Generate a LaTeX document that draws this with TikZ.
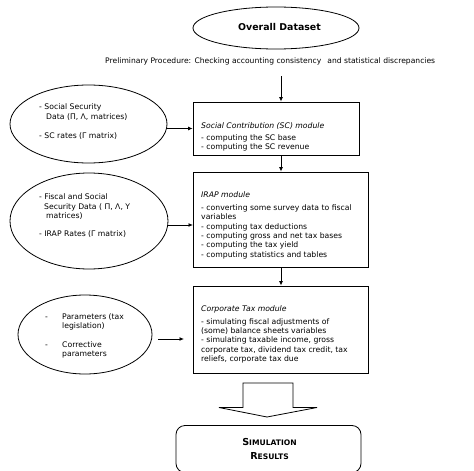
\documentclass[tikz,border=0pt]{standalone}
\usepackage{fontspec}
\setmainfont{DejaVu Sans}
\usetikzlibrary{arrows.meta,shapes.geometric}
\begin{document}
\begin{tikzpicture}[x=1pt,y=-1pt,
  ell/.style={draw, ellipse, inner sep=0pt, line width=0.8pt},
  box/.style={draw, rectangle, inner sep=0pt, line width=0.8pt},
  txt/.style={font=\fontsize{7.7}{9.35}\selectfont, align=left, inner sep=0pt, anchor=west},
  conn/.style={line width=0.9pt, -{Latex[length=4.5pt,width=4pt]}}]
\useasboundingbox (0,0) rectangle (474,471);

% top dataset
\node[ell, minimum width=166pt, minimum height=42pt] (ds) at (276,28) {};
\node[font=\bfseries\fontsize{9.4}{11}\selectfont, inner sep=0pt] (dst) at (279.5,27) {Overall Dataset};
\node[txt, font=\fontsize{7.6}{9.35}\selectfont] (pre) at (105,61) {Preliminary Procedure: Checking accounting consistency\hspace{0.8em}and statistical discrepancies};
\coordinate (prea) at (281,76);

% module boxes
\node[box, minimum width=166pt, minimum height=53pt] (sc) at (276,128.5) {};
\node[txt] (sct) at (201,136.7) {\textit{Social Contribution (SC) module}\\[2.7pt]
- computing the SC base\\
- computing the SC revenue};

\node[box, minimum width=175pt, minimum height=95pt] (irap) at (280.5,219.5) {};
\node[txt] (irapt) at (201,225.2) {\textit{IRAP module}\\[3.6pt]
- converting some survey data to fiscal\\
variables\\
- computing tax deductions\\
- computing gross and net tax bases\\
- computing the tax yield\\
- computing statistics and tables};

\node[box, minimum width=175pt, minimum height=87pt] (ct) at (280.5,329.5) {};
\node[txt] (ctt) at (201,334.2) {\textit{Corporate Tax module}\\[3.6pt]
- simulating fiscal adjustments of\\
(some) balance sheets variables\\
- simulating taxable income, gross\\
corporate tax, dividend tax credit, tax\\
reliefs, corporate tax due};

% input ellipses
\node[ell, minimum width=157pt, minimum height=78pt] (e1) at (88.5,124) {};
\node[txt] (e1t) at (39,121.7) {- Social Security\\
\hspace*{7pt}Data (Π, Λ, matrices)\\[9.6pt]
- SC rates (Γ matrix)};

\node[ell, minimum width=158pt, minimum height=96pt] (e2) at (89,221) {};
\node[txt] (e2t) at (39,215.7) {- Fiscal and Social\\
\hspace*{5pt}Security Data ( Π, Λ, Υ\\
\hspace*{7pt}matrices)\\[8.6pt]
- IRAP Rates (Γ matrix)};

\node[ell, minimum width=134pt, minimum height=79pt] (e3) at (85,334.5) {};
\node[txt] (e3t) at (45,335.7) {\makebox[17pt][l]{-}Parameters (tax\\
\hspace*{17pt}legislation)\\[9.6pt]
\makebox[17pt][l]{-}Corrective\\
\hspace*{17pt}parameters};
\coordinate (a3s) at (158,339);
\coordinate (a3e) at (184,339);

% connectors
\draw[conn] (prea) -- (prea |- sc.north);
\draw[conn] (sc.south -| prea) -- (irap.north -| prea);
\draw[conn] (irap.south -| prea) -- (ct.north -| prea);
\draw[conn] (sc.west -| e1.east) -- (sc.west);
\coordinate (a2e) at (193,225);
\draw[conn] (a2e -| e2.east) -- (a2e);
\draw[conn] (a3s) -- (a3e);

% block arrow
\draw[line width=0.8pt, line join=miter] (243,383) -- (293,383) -- (293,407.5) -- (317,407.5) -- (267,417) -- (219,407.5) -- (243,407.5) -- cycle;

% results
\node[box, rounded corners=9pt, minimum width=185pt, minimum height=47pt] (res) at (268.5,449) {};
\node[font=\bfseries\fontsize{7.6}{14}\selectfont, align=center, inner sep=0pt] (rest) at (269.5,449) {{\fontsize{9.6}{14}\selectfont S}IMULATION\\{\fontsize{9.6}{14}\selectfont R}ESULTS};
\end{tikzpicture}
\end{document}
